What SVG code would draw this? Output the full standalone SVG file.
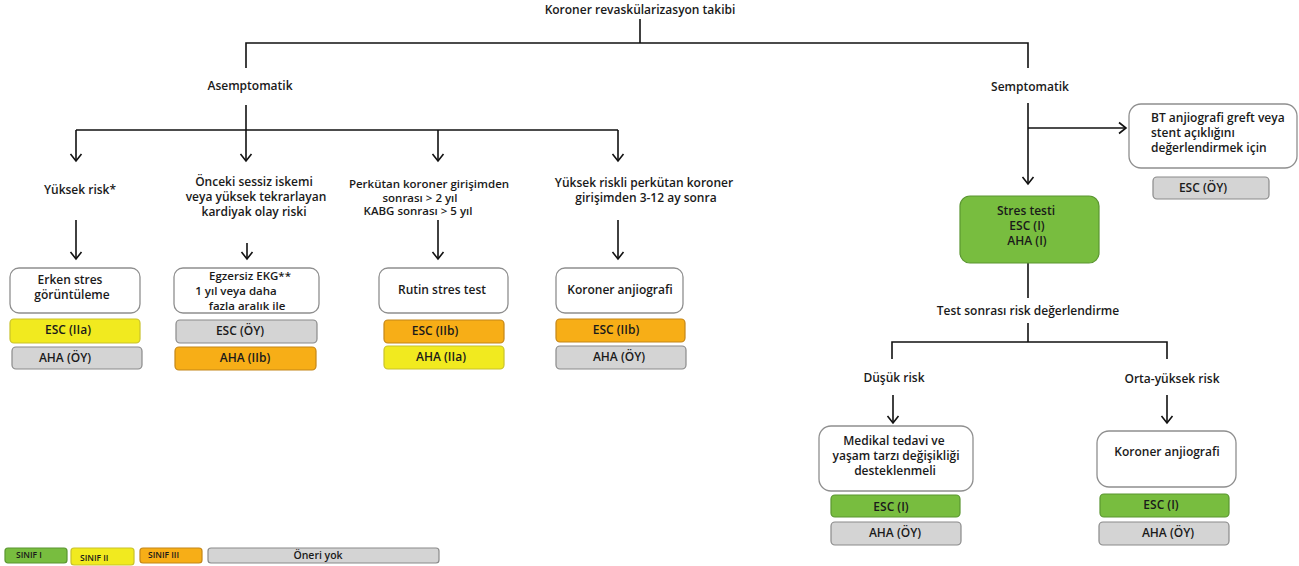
<svg xmlns="http://www.w3.org/2000/svg" width="1299" height="566" viewBox="0 0 1299 566">
<defs>
<style>
text{font-family:"Open Sans","DejaVu Sans",sans-serif;font-size:12px;font-weight:600;fill:#1a1a1a;text-anchor:middle}
.ml text{font-size:11.5px}
.l{text-anchor:start}
.sm{font-size:8.5px}
.box{fill:#fff;stroke:#8f8f8f;stroke-width:1.3}
.g{fill:#78bd3f;stroke:#5a9630;stroke-width:1.2}
.y{fill:#f1ea1f;stroke:#c9c22b;stroke-width:1.2}
.o{fill:#f7ae17;stroke:#c48618;stroke-width:1.2}
.n{fill:#d4d4d4;stroke:#8a8a8a;stroke-width:1.2}
.c path{fill:none;stroke:#111;stroke-width:1.6}
.c path.a{marker-end:url(#ah)}
</style>
<marker id="ah" markerUnits="userSpaceOnUse" markerWidth="14" markerHeight="14" viewBox="0 0 14 14" refX="10" refY="7" orient="auto">
<path d="M3,1.5 L10,7 L3,12.5" fill="none" stroke="#111" stroke-width="1.6"/>
</marker>
</defs>
<rect width="1299" height="566" fill="#fff"/>

<g class="c" id="connectors">
<path d="M640,19 V43"/>
<path d="M246,68 V43 H1028 V68"/>
<path d="M246,105 V130"/>
<path d="M76,130 H618"/>
<path class="a" d="M76,130 V161"/>
<path class="a" d="M246,130 V161"/>
<path class="a" d="M438,130 V161"/>
<path class="a" d="M618,130 V161"/>
<path class="a" d="M76,220 V259"/>
<path class="a" d="M247,243 V259"/>
<path class="a" d="M438,220 V259"/>
<path class="a" d="M618,220 V259"/>
<path class="a" d="M1028,103 V184"/>
<path class="a" d="M1028,128 H1126"/>
<path d="M1028,263 V298"/>
<path d="M1028,323 V342"/>
<path d="M892,359 V342 H1167 V359"/>
<path class="a" d="M893,395 V423"/>
<path class="a" d="M1167,395 V423"/>
</g>

<g id="title"><text x="640" y="14">Koroner revaskülarizasyon takibi</text></g>
<g id="asemptomatik"><text x="250" y="90">Asemptomatik</text></g>
<g id="semptomatik"><text x="1030" y="91">Semptomatik</text></g>

<g id="yuksek-risk"><text x="80" y="194">Yüksek risk*</text></g>
<g id="onceki">
<text x="254" y="186">Önceki sessiz iskemi</text>
<text x="256" y="201">veya yüksek tekrarlayan</text>
<text x="254" y="216">kardiyak olay riski</text>
</g>
<g id="perkutan" class="ml">
<text x="429" y="188">Perkütan koroner girişimden</text>
<text x="420" y="202">sonrası &gt; 2 yıl</text>
<text x="418" y="215">KABG sonrası &gt; 5 yıl</text>
</g>
<g id="yuksek-riskli">
<text x="644" y="187">Yüksek riskli perkütan koroner</text>
<text x="646" y="202">girişimden 3-12 ay sonra</text>
</g>

<g id="erken-stres">
<rect class="box" x="10" y="268" width="130" height="45" rx="9"/>
<text x="70" y="284">Erken stres</text>
<text x="72" y="299">görüntüleme</text>
<rect class="y" x="10" y="319" width="130" height="24" rx="4"/>
<text x="68" y="334">ESC (IIa)</text>
<rect class="n" x="12" y="347" width="130" height="22" rx="4"/>
<text x="65" y="362">AHA (ÖY)</text>
</g>

<g id="egzersiz-ekg">
<rect class="box" x="174" y="268" width="145" height="45" rx="9"/>
<g class="ml">
<text x="250" y="280">Egzersiz EKG**</text>
<text x="236" y="295">1 yıl veya daha</text>
<text x="247" y="310">fazla aralık ile</text>
</g>
<rect class="n" x="176" y="320" width="141" height="23" rx="4"/>
<text x="240" y="335">ESC (ÖY)</text>
<rect class="o" x="175" y="347" width="141" height="23" rx="4"/>
<text x="245" y="362">AHA (IIb)</text>
</g>

<g id="rutin-stres">
<rect class="box" x="379" y="268" width="129" height="45" rx="9"/>
<text x="442" y="294">Rutin stres test</text>
<rect class="o" x="384" y="320" width="120" height="23" rx="4"/>
<text x="435" y="335">ESC (IIb)</text>
<rect class="y" x="384" y="346" width="120" height="23" rx="4"/>
<text x="441" y="361">AHA (IIa)</text>
</g>

<g id="koroner-anjiografi-1">
<rect class="box" x="556" y="268" width="127" height="45" rx="9"/>
<text x="620" y="294">Koroner anjiografi</text>
<rect class="o" x="556" y="319" width="129" height="23" rx="4"/>
<text x="616" y="334">ESC (IIb)</text>
<rect class="n" x="556" y="346" width="130" height="23" rx="4"/>
<text x="619" y="361">AHA (ÖY)</text>
</g>

<g id="bt-anjiografi">
<rect class="box" x="1129" y="104" width="168" height="64" rx="12"/>
<text class="l" x="1151" y="122">BT anjiografi greft veya</text>
<text class="l" x="1151" y="137">stent açıklığını</text>
<text class="l" x="1151" y="152">değerlendirmek için</text>
<rect class="n" x="1153" y="177" width="116" height="22" rx="4"/>
<text x="1203" y="192">ESC (ÖY)</text>
</g>

<g id="stres-testi">
<rect class="g" x="960" y="196" width="139" height="67" rx="10"/>
<text x="1026" y="215">Stres testi</text>
<text x="1027" y="230">ESC (I)</text>
<text x="1027" y="245">AHA (I)</text>
</g>

<g id="test-sonrasi"><text x="1028" y="315">Test sonrası risk değerlendirme</text></g>
<g id="dusuk-risk"><text x="894" y="382">Düşük risk</text></g>
<g id="orta-yuksek"><text x="1172" y="383">Orta-yüksek risk</text></g>

<g id="medikal-tedavi">
<rect class="box" x="819" y="426" width="154" height="65" rx="12"/>
<text x="894" y="445">Medikal tedavi ve</text>
<text x="896" y="460">yaşam tarzı değişikliği</text>
<text x="895" y="475">desteklenmeli</text>
<rect class="g" x="831" y="495" width="129" height="22" rx="4"/>
<text x="891" y="511">ESC (I)</text>
<rect class="n" x="831" y="522" width="130" height="23" rx="4"/>
<text x="895" y="537">AHA (ÖY)</text>
</g>

<g id="koroner-anjiografi-2">
<rect class="box" x="1097" y="431" width="139" height="56" rx="12"/>
<text x="1167" y="456">Koroner anjiografi</text>
<rect class="g" x="1100" y="494" width="129" height="23" rx="4"/>
<text x="1161" y="509">ESC (I)</text>
<rect class="n" x="1099" y="522" width="130" height="23" rx="4"/>
<text x="1168" y="537">AHA (ÖY)</text>
</g>

<g id="legend">
<rect class="g" x="5" y="548" width="62" height="15" rx="3"/>
<text class="l sm" x="16" y="558">SINIF I</text>
<rect class="y" x="71" y="548" width="63" height="17" rx="3"/>
<text class="l sm" x="80" y="561">SINIF II</text>
<rect class="o" x="140" y="548" width="62" height="15" rx="3"/>
<text class="l sm" x="148" y="558">SINIF III</text>
<rect class="n" x="208" y="548" width="231" height="15" rx="3"/>
<text x="318" y="559" style="font-size:10.5px">Öneri yok</text>
</g>
</svg>
